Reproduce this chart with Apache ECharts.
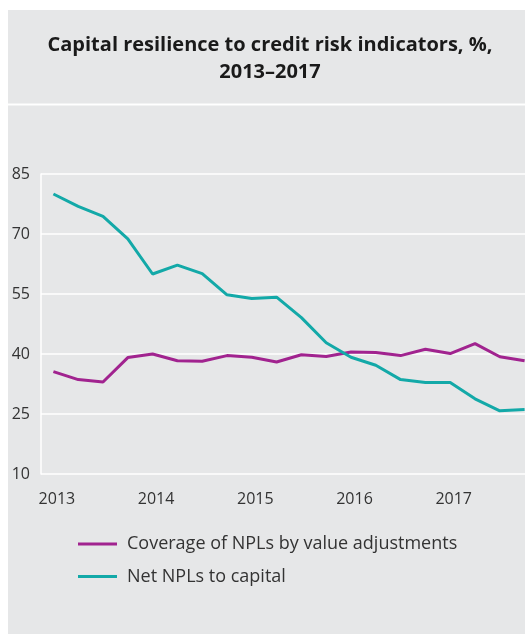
<!DOCTYPE html>
<html>
<head>
<meta charset="utf-8">
<script src="https://cdn.jsdelivr.net/npm/echarts@6/dist/echarts.min.js"></script>
<style>
  html, body { margin: 0; padding: 0; background: #ffffff; }
  #chart { width: 525px; height: 636px; }
</style>
</head>
<body>
<div id="chart"></div>
<script>
// Quarterly observations, 2013 Q1 – 2017 Q4
const quarters = [
  '2013 Q1', '2013 Q2', '2013 Q3', '2013 Q4',
  '2014 Q1', '2014 Q2', '2014 Q3', '2014 Q4',
  '2015 Q1', '2015 Q2', '2015 Q3', '2015 Q4',
  '2016 Q1', '2016 Q2', '2016 Q3', '2016 Q4',
  '2017 Q1', '2017 Q2', '2017 Q3', '2017 Q4'
];

// Coverage of NPLs by value adjustments, %
const coverage = [35.6, 33.6, 33.0, 39.1, 40.0, 38.3, 38.2, 39.6, 39.2, 38.0,
                  39.8, 39.4, 40.5, 40.4, 39.6, 41.2, 40.1, 42.6, 39.3, 38.3];

// Net NPLs to capital, %
const netNplToCapital = [80.0, 76.9, 74.4, 68.8, 60.0, 62.2, 60.1, 54.8, 53.9, 54.2,
                         49.1, 42.8, 39.2, 37.2, 33.6, 32.9, 32.9, 28.8, 25.8, 26.1];

const seriesNames = ['Coverage of NPLs by value adjustments', 'Net NPLs to capital'];
const titleLines = ['Capital resilience to credit risk indicators, %,', '2013–2017'];

const yMin = 10, yMax = 85, yStep = 15;

const PURPLE = '#a1238f';
const TEAL = '#13a9a8';
const PANEL = '#e6e7e8';
const FONT = '"Open Sans", "DejaVu Sans", sans-serif';

const chart = echarts.init(document.getElementById('chart'), null, { renderer: 'canvas' });

chart.setOption({
  backgroundColor: '#ffffff',
  animation: false,
  graphic: [
    // header panel
    { type: 'rect', z: -10, silent: true,
      shape: { x: 8, y: 10, width: 517, height: 93.5 },
      style: { fill: PANEL } },
    // chart panel
    { type: 'rect', z: -10, silent: true,
      shape: { x: 8, y: 105.5, width: 517, height: 528.5 },
      style: { fill: PANEL } }
  ],
  title: {
    text: titleLines.join('\n'),
    left: 270,
    textAlign: 'center',
    top: 31.5,
    padding: 0,
    textStyle: {
      fontFamily: FONT,
      fontWeight: 'bold',
      fontSize: 20,
      lineHeight: 27,
      color: '#1a1a1a'
    }
  },
  legend: {
    orient: 'vertical',
    left: 78,
    top: 534,
    padding: 0,
    itemWidth: 39,
    itemHeight: 3,
    itemGap: 12.5,
    icon: 'rect',
    data: seriesNames,
    textStyle: {
      fontFamily: FONT,
      fontSize: 18,
      lineHeight: 20,
      color: '#333333',
      padding: [0, 0, 0, 5]
    }
  },
  grid: {
    left: 41,
    top: 174,
    width: 496,
    height: 300,
    outerBoundsMode: 'none',
    containLabel: false
  },
  xAxis: {
    type: 'category',
    data: quarters,
    boundaryGap: true,
    axisLine: { show: false },
    axisTick: { show: false },
    splitLine: { show: false },
    axisLabel: {
      interval: 3,
      margin: 17,
      fontFamily: FONT,
      fontSize: 16,
      lineHeight: 16,
      color: '#333333',
      padding: [0, 0, 0, 7],
      formatter: v => v.slice(0, 4)
    }
  },
  yAxis: {
    type: 'value',
    min: yMin,
    max: yMax,
    interval: yStep,
    axisLine: { show: true, lineStyle: { color: '#ffffff', width: 1.5 } },
    axisTick: { show: false },
    axisLabel: {
      margin: 11,
      fontFamily: FONT,
      fontSize: 16,
      color: '#333333'
    },
    splitLine: { show: true, lineStyle: { color: '#ffffff', width: 1.5 } }
  },
  series: [
    {
      name: seriesNames[0],
      type: 'line',
      data: coverage,
      symbol: 'none',
      color: PURPLE,
      lineStyle: { width: 3, color: PURPLE },
      clip: true
    },
    {
      name: seriesNames[1],
      type: 'line',
      data: netNplToCapital,
      symbol: 'none',
      color: TEAL,
      lineStyle: { width: 3, color: TEAL },
      clip: true
    }
  ]
});
</script>
</body>
</html>
